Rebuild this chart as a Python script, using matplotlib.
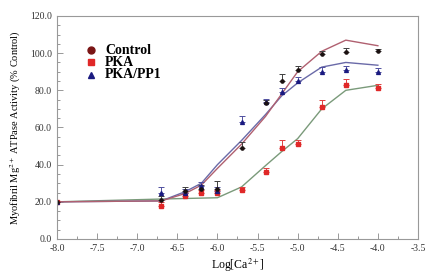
# Mg2+ ATPase activity vs log[Ca2+], three treatments with fitted curves
import numpy as np
import matplotlib
matplotlib.use('agg')
import matplotlib.pyplot as plt
from matplotlib.ticker import MultipleLocator, FormatStrFormatter

plt.rcParams['font.family'] = ['Liberation Serif', 'DejaVu Serif']
plt.rcParams['axes.unicode_minus'] = False
plt.rcParams['mathtext.fontset'] = 'stix'

# measured points
logca = [-8.0, -6.7, -6.4, -6.2, -6.0, -5.7, -5.4, -5.2, -5.0, -4.7, -4.4, -4.0]
ctrl = [20, 21, 26, 27, 27, 49, 73, 85, 91, 99.5, 100.5, 101]
ctrl_err = [0, 2, 2, 2, 4, 3, 2, 4, 2, 1.5, 2.5, 1.5]
pka = [20, 18, 23, 24.5, 24.5, 26.5, 36, 49, 51, 71, 83, 81.5]
pka_err = [0, 2, 2, 2, 2, 1.5, 2, 4, 2, 4, 3, 2]
pp1 = [20, 25, 25, 28.5, 26, 63, 73.5, 79, 85, 90, 91, 90]
pp1_err = [0, 3, 2, 2, 2, 3, 2, 2, 2, 2.5, 2, 2]

# fitted curves
ctrl_fit = [20, 20.5, 24.5, 29, 38, 51, 66, 78, 90, 101, 107, 104]
pka_fit = [20, 21.5, 21.8, 22, 22.2, 28, 39.5, 47, 54, 70, 80, 82.7]
pp1_fit = [20, 20.5, 25.5, 30, 40, 53, 67, 77, 84, 92.5, 95, 93.5]

fig = plt.figure(figsize=(4.4, 2.78), dpi=100)
ax = fig.add_axes([0.1295, 0.1403, 0.8205, 0.8022])

ax.plot(logca, pka_fit, color='#7a9a7a', lw=1)
ax.plot(logca, pp1_fit, color='#6a6aa8', lw=1)
ax.plot(logca, ctrl_fit, color='#b06070', lw=1)

ax.errorbar(logca, pka, yerr=[np.zeros(len(pka)), pka_err], fmt='s', ms=2.3,
            color='#e02828', ecolor='#e04040', elinewidth=0.7, capsize=2.5, capthick=0.7)
ax.errorbar(logca, pp1, yerr=[np.zeros(len(pp1)), pp1_err], fmt='^', ms=2.8,
            color='#1a1a80', ecolor='#5050a0', elinewidth=0.7, capsize=2.5, capthick=0.7)
ax.errorbar(logca, ctrl, yerr=[np.zeros(len(ctrl)), ctrl_err], fmt='o', ms=2.3,
            color='#1a1010', ecolor='#404040', elinewidth=0.7, capsize=2.5, capthick=0.7)

# legend drawn by hand
lx = -7.58
ax.plot([lx], [101.5], 'o', ms=5, color='#7a1515')
ax.plot([lx], [95], 's', ms=5, color='#e02828')
ax.plot([lx], [88.5], '^', ms=5, color='#1a1a80')
ax.text(lx + 0.18, 101.5, 'Control', fontsize=10, fontweight='bold', va='center')
ax.text(lx + 0.18, 95, 'PKA', fontsize=10, fontweight='bold', va='center')
ax.text(lx + 0.18, 88.5, 'PKA/PP1', fontsize=10, fontweight='bold', va='center')

ax.set_xlim(-8.0, -3.5)
ax.set_ylim(0, 120)
ax.xaxis.set_major_locator(MultipleLocator(0.5))
ax.xaxis.set_minor_locator(MultipleLocator(0.25))
ax.yaxis.set_major_locator(MultipleLocator(20))
ax.yaxis.set_minor_locator(MultipleLocator(5))
ax.xaxis.set_major_formatter(FormatStrFormatter('%.1f'))
ax.yaxis.set_major_formatter(FormatStrFormatter('%.1f'))
ax.tick_params(which='both', direction='in', colors='#888888', labelcolor='#333333',
               labelsize=7, width=0.6)
ax.tick_params(which='major', length=4)
ax.tick_params(which='minor', length=2.5)
for s in ax.spines.values():
    s.set_color('#999999')
    s.set_linewidth(0.8)

ax.set_xlabel('Log[Ca$^{2+}$]', fontsize=8.5, labelpad=3)
ax.set_ylabel('Myofibril Mg$^{2+}$ ATPase Activity (% Control)', fontsize=7.5, labelpad=5)

fig.savefig('out.png', dpi=100)
